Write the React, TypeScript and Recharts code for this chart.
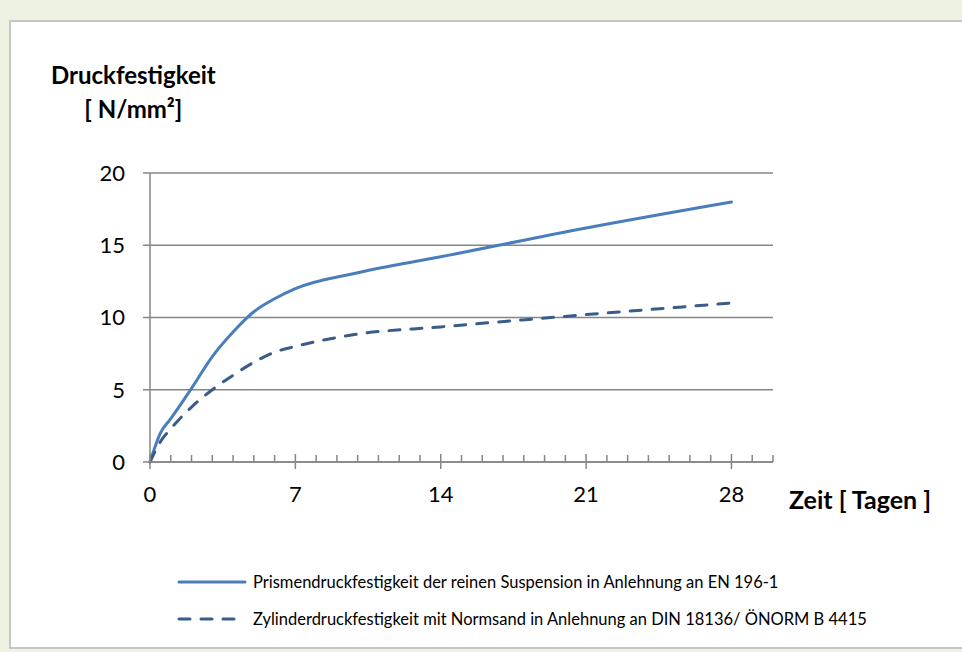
import { LineChart, Line, XAxis, YAxis, CartesianGrid } from 'recharts'

// Alter der Proben in Tagen
const days = [0, 0.5, 1, 2, 3, 4, 5, 6, 7, 10, 14, 21, 28]
// Prismendruckfestigkeit (durchgezogen)
const prismValues = [0, 2.0, 3.0, 5.1, 7.3, 9.0, 10.4, 11.3, 12.0, 13.1, 14.2, 16.2, 18.0]
// Zylinderdruckfestigkeit (gestrichelt)
const zylinderValues = [0, 1.4, 2.3, 3.8, 5.0, 6.0, 6.9, 7.6, 8.0, 8.85, 9.35, 10.2, 11.0]

const dayTicks = Array.from({ length: 31 }, (_, i) => i)
const strengthTicks = [0, 5, 10, 15, 20]

const seriesNames = [
  'Prismendruckfestigkeit der reinen Suspension in Anlehnung an EN 196-1',
  'Zylinderdruckfestigkeit mit Normsand in Anlehnung an DIN 18136/ ÖNORM B 4415'
]

const data = days.map((d, i) => ({
  day: d,
  prism: prismValues[i],
  zylinder: zylinderValues[i]
}))

const FONT = 'Lato, "Open Sans", sans-serif'
const AXIS = '#868686'
const BLUE = '#4a7ebb'
const DARK_BLUE = '#385d8a'

const series = [
  { key: 'prism', name: seriesNames[0], stroke: BLUE, dash: undefined },
  { key: 'zylinder', name: seriesNames[1], stroke: DARK_BLUE, dash: '11 11' }
]

function DayTick(props: any) {
  const { x, y, payload } = props
  const v = payload.value
  const major = v % 7 === 0
  return (
    <g>
      <line
        x1={x}
        x2={x}
        y1={major ? y - 8 : y - 7}
        y2={major ? y + 7 : y}
        stroke={AXIS}
        strokeWidth={1.5}
      />
      {major && (
        <text x={x} y={y + 40} textAnchor="middle" fill="#000" fontSize={22} fontFamily={FONT}>
          {v}
        </text>
      )}
    </g>
  )
}

export default function App() {
  return (
    <div
      style={{
        position: 'absolute',
        left: 0,
        top: 0,
        width: 962,
        height: 652,
        background: '#eef2e3',
        fontFamily: FONT,
        overflow: 'hidden'
      }}
    >
      <div
        style={{
          position: 'absolute',
          left: 9,
          top: 20,
          width: 960,
          height: 625,
          background: '#fff',
          borderTop: '2px solid #c6c6c6',
          borderLeft: '2px solid #c6c6c6',
          borderBottom: '2px solid #c6c6c6'
        }}
      />
      <div style={{ position: 'absolute', left: 0, top: 0 }}>
        <LineChart
          width={962}
          height={652}
          data={data}
          margin={{ top: 173, right: 189, left: 0, bottom: 0 }}
        >
          <CartesianGrid vertical={false} stroke={AXIS} strokeWidth={1.5} />
          <XAxis
            dataKey="day"
            type="number"
            domain={[0, 30]}
            ticks={dayTicks}
            interval={0}
            height={190}
            tickSize={0}
            tickMargin={0}
            tickLine={false}
            axisLine={{ stroke: AXIS, strokeWidth: 1.5 }}
            tick={<DayTick />}
          />
          <YAxis
            type="number"
            domain={[0, 20]}
            ticks={strengthTicks}
            width={150}
            tickSize={7}
            tickMargin={18}
            tickLine={{ stroke: AXIS, strokeWidth: 1.5 }}
            axisLine={{ stroke: AXIS, strokeWidth: 1.5 }}
            tick={{ fill: '#000', fontSize: 22, fontFamily: FONT }}
          />
          {series.map((s) => (
            <Line
              key={s.key}
              type="monotone"
              dataKey={s.key}
              name={s.name}
              stroke={s.stroke}
              strokeWidth={3}
              strokeDasharray={s.dash}
              strokeLinecap="round"
              dot={false}
              activeDot={false}
              isAnimationActive={false}
            />
          ))}
        </LineChart>
      </div>

      <div
        style={{
          position: 'absolute',
          left: 51,
          top: 58,
          fontSize: 24,
          fontWeight: 700,
          lineHeight: '34px',
          textAlign: 'center',
          color: '#000'
        }}
      >
        Druckfestigkeit
        <br />
        [ N/mm²]
      </div>

      <div
        style={{
          position: 'absolute',
          left: 789,
          top: 484,
          fontSize: 25,
          fontWeight: 700,
          color: '#000',
          whiteSpace: 'nowrap'
        }}
      >
        Zeit [ Tagen ]
      </div>

      <div style={{ position: 'absolute', left: 177, top: 563 }}>
        {series.map((s) => (
          <div
            key={s.key}
            style={{ display: 'flex', alignItems: 'center', height: 37, whiteSpace: 'nowrap' }}
          >
            <svg width={76} height={10}>
              <line
                x1={2}
                x2={68}
                y1={5}
                y2={5}
                stroke={s.stroke}
                strokeWidth={3}
                strokeDasharray={s.dash}
                strokeLinecap="round"
              />
            </svg>
            <span style={{ fontSize: 16.5, color: '#000' }}>{s.name}</span>
          </div>
        ))}
      </div>
    </div>
  )
}
